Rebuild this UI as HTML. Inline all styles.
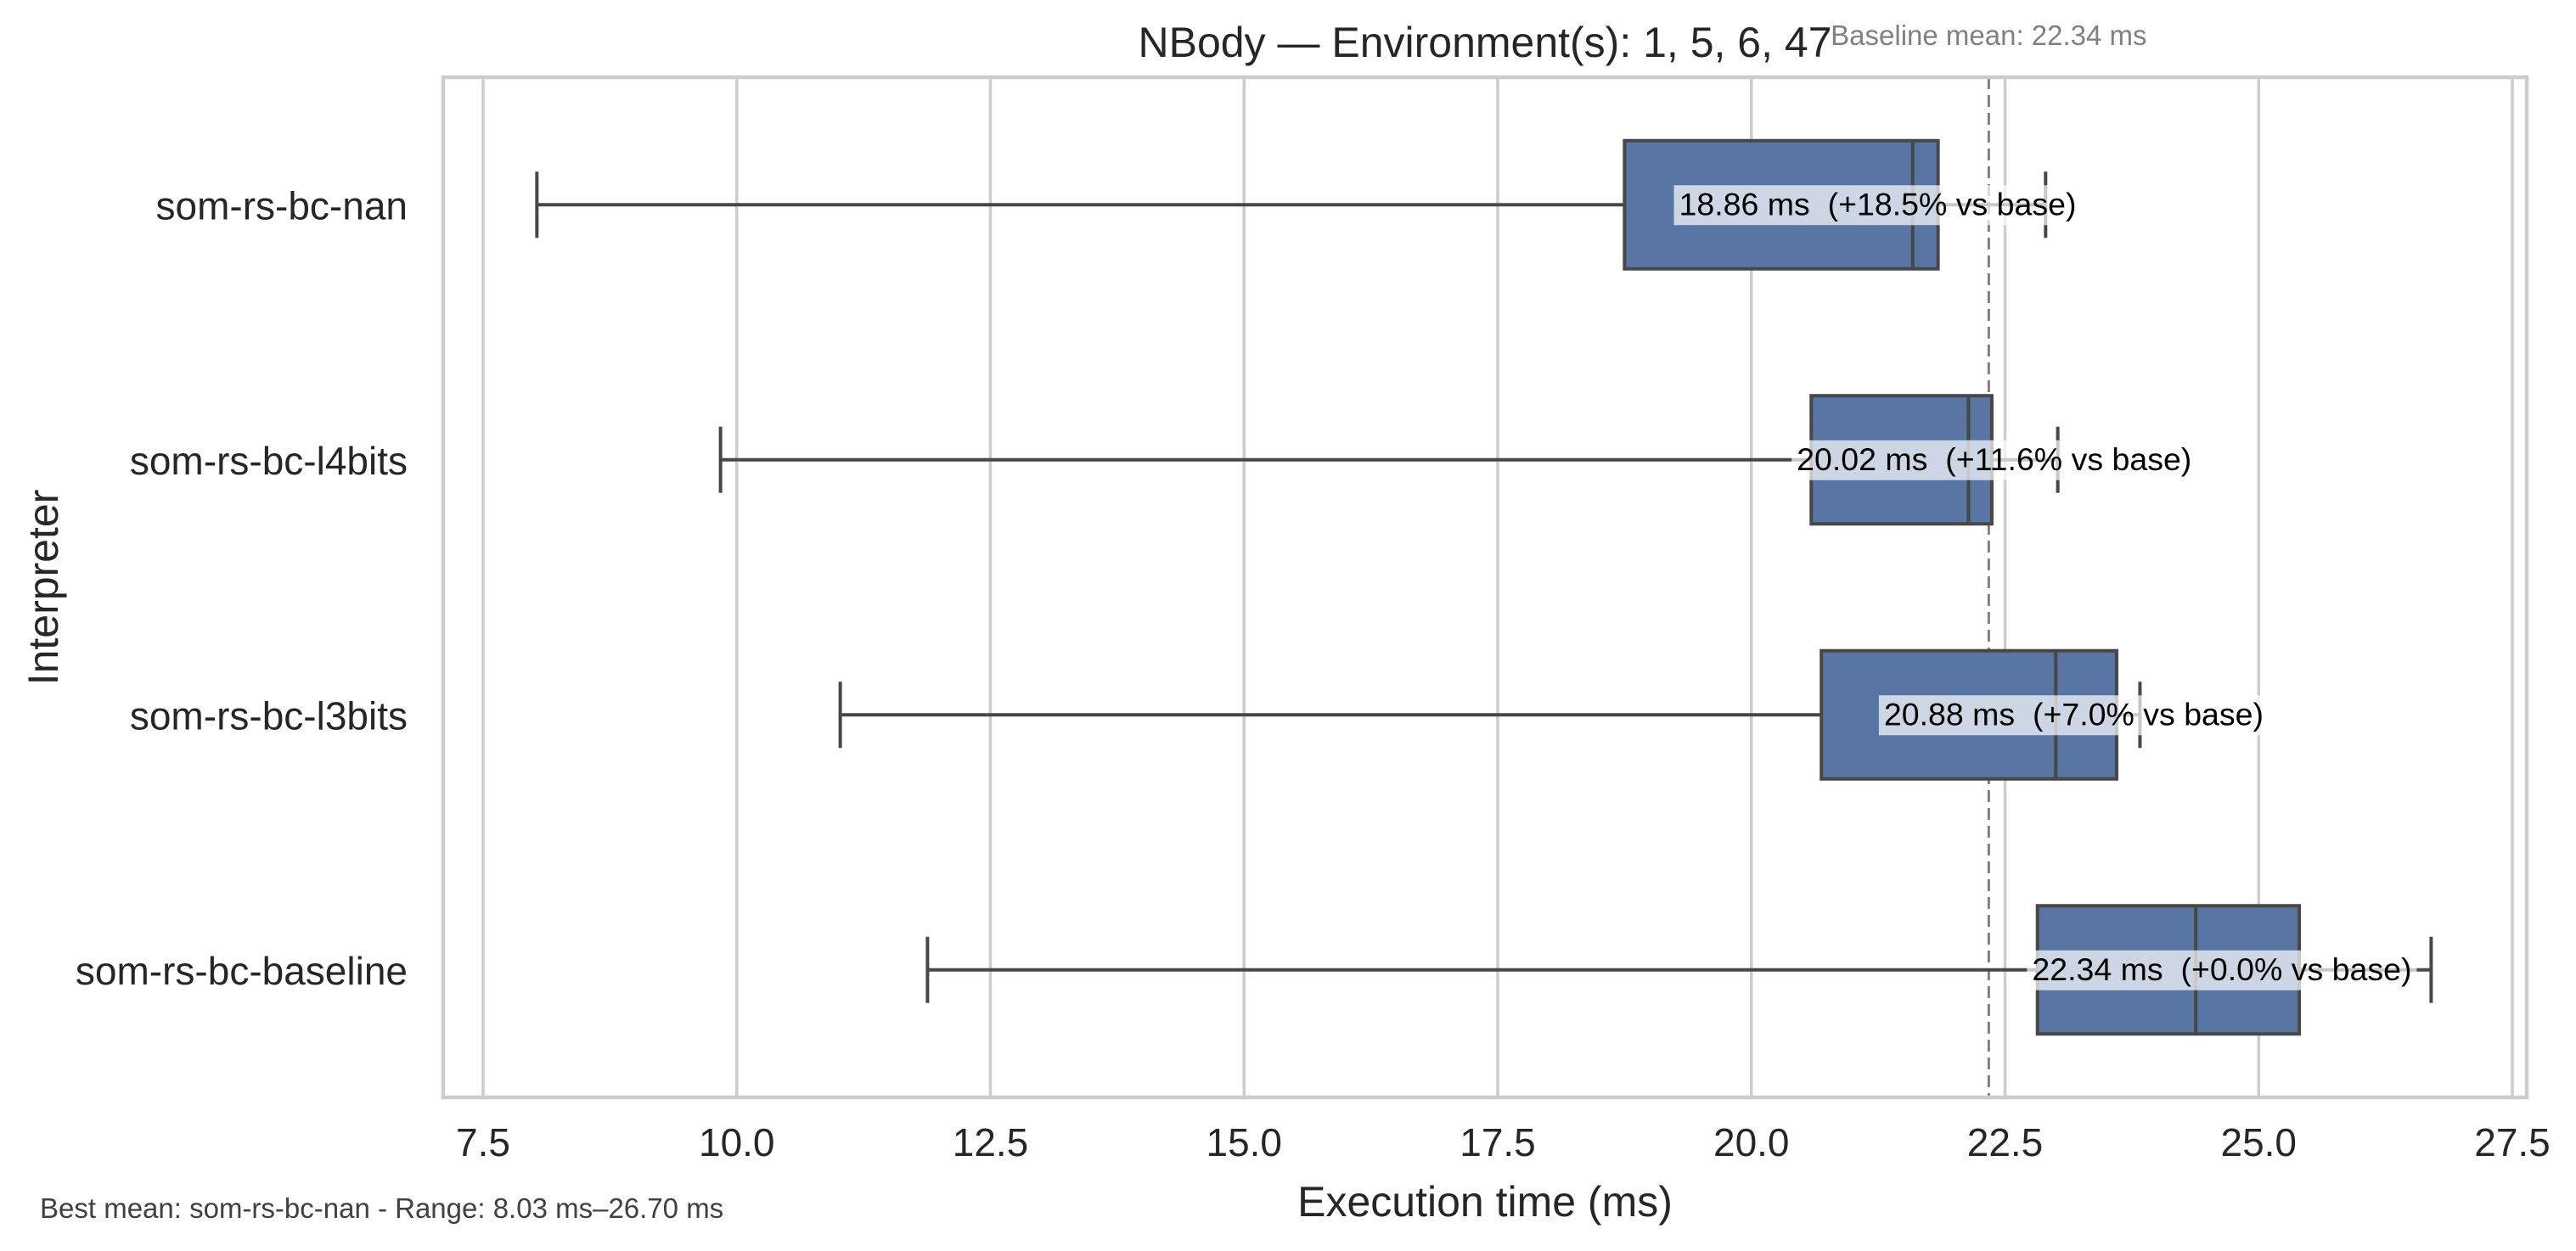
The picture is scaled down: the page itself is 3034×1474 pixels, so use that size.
<!DOCTYPE html>
<html><head><meta charset="utf-8"><style>
html,body{margin:0;padding:0;background:#fff;}
svg{display:block;font-family:"Liberation Sans",Arial,sans-serif;}
</style></head><body>
<svg id="chart" width="3034" height="1474" viewBox="0 0 3034 1474" xmlns="http://www.w3.org/2000/svg">
<rect x="0" y="0" width="3034" height="1474" fill="#ffffff"/>
<g id="grid"></g>
<g id="baseline-g"></g>
<g id="boxes"></g>
<g id="labels"></g>
<rect x="522" y="91" width="2454" height="1202" fill="none" stroke="#cccccc" stroke-width="4.5"/>
<g id="ticks"></g>
<text x="1749" y="67" font-size="50" text-anchor="middle" fill="#262626">NBody — Environment(s): 1, 5, 6, 47</text>
<text x="1749" y="1433" font-size="50" text-anchor="middle" fill="#262626">Execution time (ms)</text>
<text x="0" y="0" font-size="50" text-anchor="middle" fill="#262626" transform="translate(68,692) rotate(-90)">Interpreter</text>
<text x="47" y="1435" font-size="33" fill="#404040">Best mean: som-rs-bc-nan - Range: 8.03 ms–26.70 ms</text>
</svg>
<script>
const categories = ["som-rs-bc-nan","som-rs-bc-l4bits","som-rs-bc-l3bits","som-rs-bc-baseline"];
const whiskerLow = [8.03, 9.84, 11.02, 11.88];
const q1 = [18.75, 20.59, 20.69, 22.82];
const median = [21.59, 22.14, 23.0, 24.38];
const q3 = [21.84, 22.37, 23.60, 25.40];
const whiskerHigh = [22.9, 23.02, 23.83, 26.70];
const means = [18.86, 20.02, 20.88, 22.34];
const pctVsBase = ["+18.5%", "+11.6%", "+7.0%", "+0.0%"];
const xTicks = [7.5, 10.0, 12.5, 15.0, 17.5, 20.0, 22.5, 25.0, 27.5];
const baselineMean = 22.34;

const NS = "http://www.w3.org/2000/svg";
const X0 = 569, XV0 = 7.5, XS = 119.5;
function x(v){ return X0 + (v - XV0) * XS; }
const TOP = 91, BOT = 1293;
const band = (BOT - TOP) / categories.length;
function y(i){ return TOP + band * (i + 0.5); }
function mk(tag, attrs, parent){
  const e = document.createElementNS(NS, tag);
  for (const k in attrs) e.setAttribute(k, attrs[k]);
  parent.appendChild(e);
  return e;
}
const grid = document.getElementById('grid');
const ticks = document.getElementById('ticks');
xTicks.forEach(t => {
  const l = mk('line', {x1:x(t), x2:x(t), y1:TOP, y2:BOT, stroke:'#cccccc', 'stroke-width':3.5}, grid);
  
  
  const tx = mk('text', {x:x(t), y:1362, 'font-size':46, 'text-anchor':'middle', fill:'#262626'}, ticks);
  tx.textContent = t.toFixed(1);
  
  
});
categories.forEach((c, i) => {
  const tx = mk('text', {x:480, y:y(i) + 17, 'font-size':46, 'text-anchor':'end', fill:'#262626'}, ticks);
  tx.textContent = c;
  
  
});
const bg = document.getElementById('baseline-g');
const bl = mk('line', {x1:x(baselineMean), x2:x(baselineMean), y1:TOP, y2:BOT, stroke:'#808080', 'stroke-width':3, 'stroke-dasharray':'14,7'}, bg);


const bt = mk('text', {x:x(baselineMean), y:53, 'font-size':33, 'text-anchor':'middle', fill:'#808080'}, bg);
bt.textContent = 'Baseline mean: ' + baselineMean.toFixed(2) + ' ms';



const boxes = document.getElementById('boxes');
const labels = document.getElementById('labels');
const BH = 151, CAP = 39, EC = '#474747';
categories.forEach((c, i) => {
  const cy = y(i);
  const g = mk('g', {}, boxes);
  
  
  mk('line', {x1:x(whiskerLow[i]), x2:x(q1[i]), y1:cy, y2:cy, stroke:EC, 'stroke-width':4}, g);
  mk('line', {x1:x(q3[i]), x2:x(whiskerHigh[i]), y1:cy, y2:cy, stroke:EC, 'stroke-width':4}, g);
  mk('line', {x1:x(whiskerLow[i]), x2:x(whiskerLow[i]), y1:cy-CAP, y2:cy+CAP, stroke:EC, 'stroke-width':4}, g);
  mk('line', {x1:x(whiskerHigh[i]), x2:x(whiskerHigh[i]), y1:cy-CAP, y2:cy+CAP, stroke:EC, 'stroke-width':4}, g);
  mk('rect', {x:x(q1[i]), y:cy-BH/2, width:x(q3[i])-x(q1[i]), height:BH, fill:'#5875a4', stroke:EC, 'stroke-width':4}, g);
  mk('line', {x1:x(median[i]), x2:x(median[i]), y1:cy-BH/2, y2:cy+BH/2, stroke:EC, 'stroke-width':4}, g);

  const lg = mk('g', {}, labels);
  
  
  const t = mk('text', {x:x(means[i]) + 51, y:cy + 12, 'font-size':37.5, fill:'#000000'}, lg);
  t.textContent = means[i].toFixed(2) + ' ms\u00a0\u00a0(' + pctVsBase[i] + ' vs base)';
  const bb = t.getBBox();
  const r = mk('rect', {x:bb.x - 6, y:cy - 23, width:bb.width + 12, height:47, fill:'#ffffff', 'fill-opacity':0.7}, lg);
  lg.insertBefore(r, t);
});
</script>
</body></html>
